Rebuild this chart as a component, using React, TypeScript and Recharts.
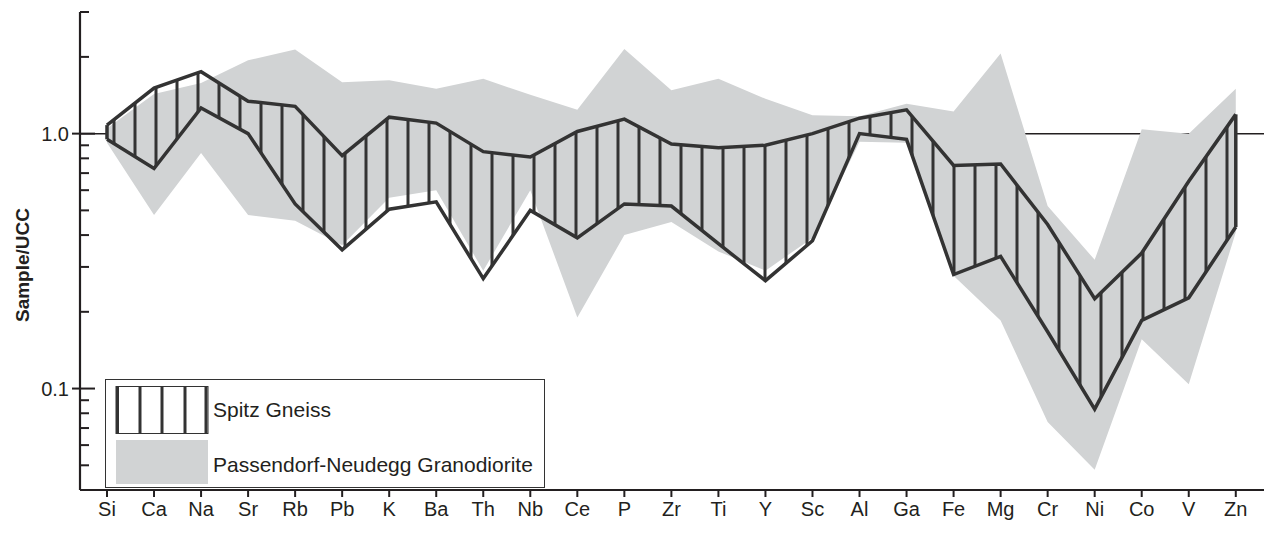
import React from 'react';
import { ComposedChart, Area, XAxis, YAxis, CartesianGrid, ReferenceLine } from 'recharts';

const elements = ['Si', 'Ca', 'Na', 'Sr', 'Rb', 'Pb', 'K', 'Ba', 'Th', 'Nb', 'Ce', 'P', 'Zr', 'Ti', 'Y', 'Sc', 'Al', 'Ga', 'Fe', 'Mg', 'Cr', 'Ni', 'Co', 'V', 'Zn'];

// Spitz Gneiss range (Sample/UCC)
const spitzHigh = [1.08, 1.51, 1.75, 1.34, 1.28, 0.82, 1.16, 1.10, 0.85, 0.81, 1.02, 1.14, 0.91, 0.88, 0.90, 1.0, 1.15, 1.24, 0.75, 0.76, 0.44, 0.225, 0.34, 0.65, 1.19];
const spitzLow = [0.95, 0.73, 1.26, 1.0, 0.53, 0.35, 0.505, 0.54, 0.27, 0.50, 0.39, 0.53, 0.52, 0.37, 0.265, 0.38, 1.0, 0.95, 0.28, 0.33, 0.167, 0.083, 0.185, 0.227, 0.43];

// Passendorf-Neudegg Granodiorite range (Sample/UCC)
const granHigh = [1.05, 1.43, 1.58, 1.94, 2.14, 1.59, 1.62, 1.50, 1.64, 1.42, 1.24, 2.15, 1.48, 1.64, 1.37, 1.18, 1.17, 1.31, 1.22, 2.06, 0.52, 0.32, 1.04, 1.0, 1.5];
const granLow = [0.92, 0.48, 0.84, 0.48, 0.455, 0.365, 0.56, 0.60, 0.29, 0.60, 0.19, 0.40, 0.45, 0.345, 0.29, 0.39, 0.93, 0.92, 0.277, 0.185, 0.074, 0.048, 0.156, 0.104, 0.41];

const yTicks = [0.04, 0.05, 0.06, 0.07, 0.08, 0.09, 0.1, 0.2, 0.3, 0.4, 0.5, 0.6, 0.7, 0.8, 0.9, 1, 2, 3];
const yMajor: Record<string, string> = { '1': '1.0', '0.1': '0.1' };
const xTicks = elements.map((_, i) => i);

const INK = '#231f20';
const LINE = '#333333';
const GREY = '#d1d3d4';
const FONT = '"Liberation Sans", Arial, Helvetica, sans-serif';

const data = elements.map((el, i) => ({
  idx: i,
  el,
  spitz: [spitzLow[i], spitzHigh[i]],
  gran: [granLow[i], granHigh[i]],
}));

const YTick = (props: any) => {
  const { x, y, payload } = props;
  const label = yMajor[String(payload.value)];
  if (label) {
    return (
      <g>
        <line x1={x - 8} x2={x + 15} y1={y} y2={y} stroke={INK} strokeWidth={2} />
        <text x={x - 11} y={y} textAnchor="end" dominantBaseline="central" fontSize={20} fill={INK} fontFamily={FONT}>
          {label}
        </text>
      </g>
    );
  }
  return (
    <g>
      <path d={`M${x},${y}H${x + 9}`} stroke={INK} strokeWidth={2} fill="none" />
    </g>
  );
};

const YLabel = (props: any) => {
  const vb = props.viewBox || { x: 0, y: 12, width: 80, height: 478 };
  const cx = vb.x + 22;
  const cy = vb.y + vb.height / 2 + 14;
  return (
    <text
      x={cx}
      y={cy}
      transform={`rotate(-90, ${cx}, ${cy})`}
      textAnchor="middle"
      dominantBaseline="central"
      fontSize={19}
      fontWeight="bold"
      fill={INK}
      fontFamily={FONT}
    >
      Sample/UCC
    </text>
  );
};

const LegendBox = () => (
  <div
    style={{
      position: 'absolute',
      left: 105,
      top: 379,
      width: 440,
      height: 109,
      boxSizing: 'border-box',
      border: `1.5px solid ${LINE}`,
      background: '#fff',
      fontFamily: FONT,
      color: INK,
      fontSize: 21,
    }}
  >
    <svg width={94} height={48} style={{ position: 'absolute', left: 9, top: 6 }}>
      <rect x={1} y={0.5} width={92} height={47} fill="#fff" stroke={LINE} strokeWidth={1} />
      {[2.5, 25, 47, 70, 91].map((lx) => (
        <line key={lx} x1={lx} x2={lx} y1={0.5} y2={47.5} stroke={LINE} strokeWidth={3} />
      ))}
    </svg>
    <div style={{ position: 'absolute', left: 10, top: 60, width: 92, height: 44, background: GREY }} />
    <div style={{ position: 'absolute', left: 107, top: 18, lineHeight: '24px', whiteSpace: 'nowrap' }}>Spitz Gneiss</div>
    <div style={{ position: 'absolute', left: 107, top: 73, lineHeight: '24px', whiteSpace: 'nowrap' }}>
      Passendorf-Neudegg Granodiorite
    </div>
  </div>
);

export default function App() {
  return (
    <div style={{ position: 'absolute', left: 0, top: 0, width: 1264, height: 553, background: '#fff' }}>
      <svg width={0} height={0} style={{ position: 'absolute' }}>
        <defs>
          <pattern id="spitzHatch" patternUnits="userSpaceOnUse" x={0} y={0} width={21} height={10}>
            <rect x={7.5} y={0} width={3} height={10} fill={LINE} />
          </pattern>
        </defs>
      </svg>
      <ComposedChart
        width={1264}
        height={553}
        data={data}
        margin={{ top: 12, right: 0, bottom: 0, left: 0 }}
      >
        <CartesianGrid horizontal={true} vertical={false} horizontalValues={[1]} stroke={INK} strokeWidth={1.5} />
        <XAxis
          dataKey="idx"
          type="number"
          domain={[-0.574, 24.6]}
          allowDataOverflow
          ticks={xTicks}
          interval={0}
          tickFormatter={(v: number) => elements[v]}
          height={63}
          tickSize={7}
          tickMargin={5}
          axisLine={{ stroke: INK, strokeWidth: 2.2 }}
          tickLine={{ stroke: INK, strokeWidth: 2 }}
          tick={{ fontSize: 20, fill: INK, fontFamily: FONT }}
        />
        <YAxis
          scale="log"
          domain={[0.04, 3]}
          allowDataOverflow
          ticks={yTicks}
          interval={0}
          minTickGap={0}
          width={80}
          tickSize={0}
          tickMargin={0}
          tickLine={false}
          axisLine={{ stroke: INK, strokeWidth: 2.2 }}
          tick={<YTick />}
          label={<YLabel />}
        />
        <Area
          type="linear"
          dataKey="gran"
          stroke="none"
          fill={GREY}
          fillOpacity={1}
          isAnimationActive={false}
          dot={false}
          activeDot={false}
        />
        <Area
          type="linear"
          dataKey="spitz"
          stroke={LINE}
          strokeWidth={3.5}
          strokeLinejoin="miter"
          fill="url(#spitzHatch)"
          fillOpacity={1}
          isAnimationActive={false}
          dot={false}
          activeDot={false}
        />
        <ReferenceLine
          segment={[{ x: 0, y: spitzLow[0] }, { x: 0, y: spitzHigh[0] }]}
          stroke={LINE}
          strokeWidth={3.5}
        />
        <ReferenceLine
          segment={[
            { x: elements.length - 1, y: spitzLow[elements.length - 1] },
            { x: elements.length - 1, y: spitzHigh[elements.length - 1] },
          ]}
          stroke={LINE}
          strokeWidth={3.5}
        />
      </ComposedChart>
      <LegendBox />
    </div>
  );
}
